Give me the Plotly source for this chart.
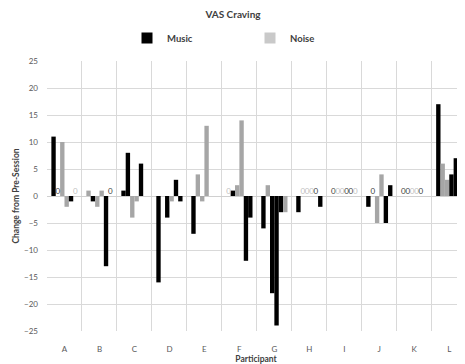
import plotly.graph_objects as go

participants = ["A", "B", "C", "D", "E", "F", "G", "H", "I", "J", "K", "L"]

# Six sessions per participant: change from pre-session, and condition (M = Music, N = Noise)
s1 = [11, 1, 1, -16, -7, 0, -6, -3, 0, -2, 0, 17]
c1 = ["M", "N", "M", "M", "M", "N", "M", "M", "M", "M", "M", "M"]
s2 = [0, -1, 8, None, 4, 1, 2, 0, 0, 0, 0, 6]
c2 = ["M", "M", "M", "M", "N", "M", "N", "N", "N", "M", "M", "N"]
s3 = [10, -2, -4, -4, -1, 2, -18, 0, 0, -5, 0, 3]
c3 = ["N", "N", "N", "M", "N", "N", "M", "N", "N", "N", "N", "N"]
s4 = [-2, 1, -1, -1, 13, 14, -24, 0, 0, 4, 0, 4]
c4 = ["N", "N", "N", "N", "N", "N", "M", "N", "M", "N", "N", "M"]
s5 = [-1, -13, 6, 3, None, -12, -3, 0, 0, -5, 0, 7]
c5 = ["M", "M", "M", "M", "M", "M", "M", "M", "M", "M", "M", "M"]
s6 = [0, 0, None, -1, None, -4, -3, -2, 0, 2, None, -2]
c6 = ["N", "M", "M", "M", "M", "M", "N", "M", "N", "M", "M", "N"]

sessions = [s1, s2, s3, s4, s5, s6]
conds = [c1, c2, c3, c4, c5, c6]

bar_color = {"M": "#000000", "N": "#a6a6a6"}
label_color = {"M": "#404040", "N": "#bfbfbf"}
legend_color = {"Music": "#000000", "Noise": "#c9c9c9"}

FONT = "Lato, 'Open Sans', sans-serif"
# the page body adds an 8px margin; the figure is sized to fit the window
W, H = 457, 356
L_M, R_M, T_M, B_M = 39, 0, 53, 33
XMAX = 11.45
PW, PH = W - L_M - R_M, H - T_M - B_M

nS = len(sessions)
bw = 1.0 / (nS + 2)  # gap width 200%

fig = go.Figure()
for k, (vals, cc) in enumerate(zip(sessions, conds)):
    off = -0.5 + bw + k * bw
    fig.add_trace(go.Bar(
        x=participants, y=vals, width=bw, offset=off,
        marker=dict(color=[bar_color[c] for c in cc], line=dict(width=0)),
        showlegend=False, hoverinfo="skip",
    ))
    # zero-value data labels
    xs, ys, ts, cols = [], [], [], []
    for i, (v, c) in enumerate(zip(vals, cc)):
        if v == 0:
            xs.append(i + off + bw / 2)
            ys.append(v)
            ts.append("0")
            cols.append(label_color[c])
    fig.add_trace(go.Scatter(
        x=xs, y=ys, text=ts, mode="text", textposition="top center",
        textfont=dict(family=FONT, size=8, color=cols),
        xaxis="x2", yaxis="y", showlegend=False, hoverinfo="skip", cliponaxis=False,
    ))

for name in ["Music", "Noise"]:
    fig.add_trace(go.Scatter(
        x=[None], y=[None], mode="markers", name="<b>" + name + "</b>",
        marker=dict(symbol="square", size=11, color=legend_color[name]),
    ))

fig.update_layout(
    width=W, height=H,
    margin=dict(l=L_M, r=R_M, t=T_M, b=B_M, autoexpand=False),
    paper_bgcolor="white", plot_bgcolor="white",
    barmode="overlay",
    font=dict(family=FONT, color="#595959"),
    title=dict(text="<b>VAS Craving</b>", x=(233 - 8) / W, xanchor="center",
               y=1 - 6 / H, yanchor="middle", yref="container",
               font=dict(size=10, color="#404040")),
    legend=dict(orientation="h", x=(119 - L_M) / PW, xanchor="left",
                y=(H - B_M - 30) / PH, yanchor="middle",
                entrywidth=78, entrywidthmode="pixels",
                font=dict(size=9.5, color="#404040", family=FONT),
                itemclick=False),
    xaxis=dict(type="category", range=[-0.5, XMAX], tickson="boundaries",
               showgrid=True, gridcolor="#d9d9d9", gridwidth=1,
               ticks="", showline=False, zeroline=False,
               tickfont=dict(size=8, color="#595959"), ticklabelstandoff=12,
               title=dict(text="<b>Participant</b>", font=dict(size=8.5, color="#404040"), standoff=2),
               automargin=False),
    xaxis2=dict(type="linear", range=[-0.5, XMAX], overlaying="x", visible=False),
    yaxis=dict(range=[-25, 25], dtick=5, showgrid=True, gridcolor="#d9d9d9", gridwidth=1,
               zeroline=True, zerolinecolor="#d0d0d0", zerolinewidth=1,
               ticks="", showline=False,
               tickfont=dict(size=8, color="#595959"), ticklabelstandoff=8,
               title=dict(text="<b>Change from Pre-Session</b>", font=dict(size=8.5, color="#404040"), standoff=3),
               automargin=False),
)

fig.write_html("out.html")
